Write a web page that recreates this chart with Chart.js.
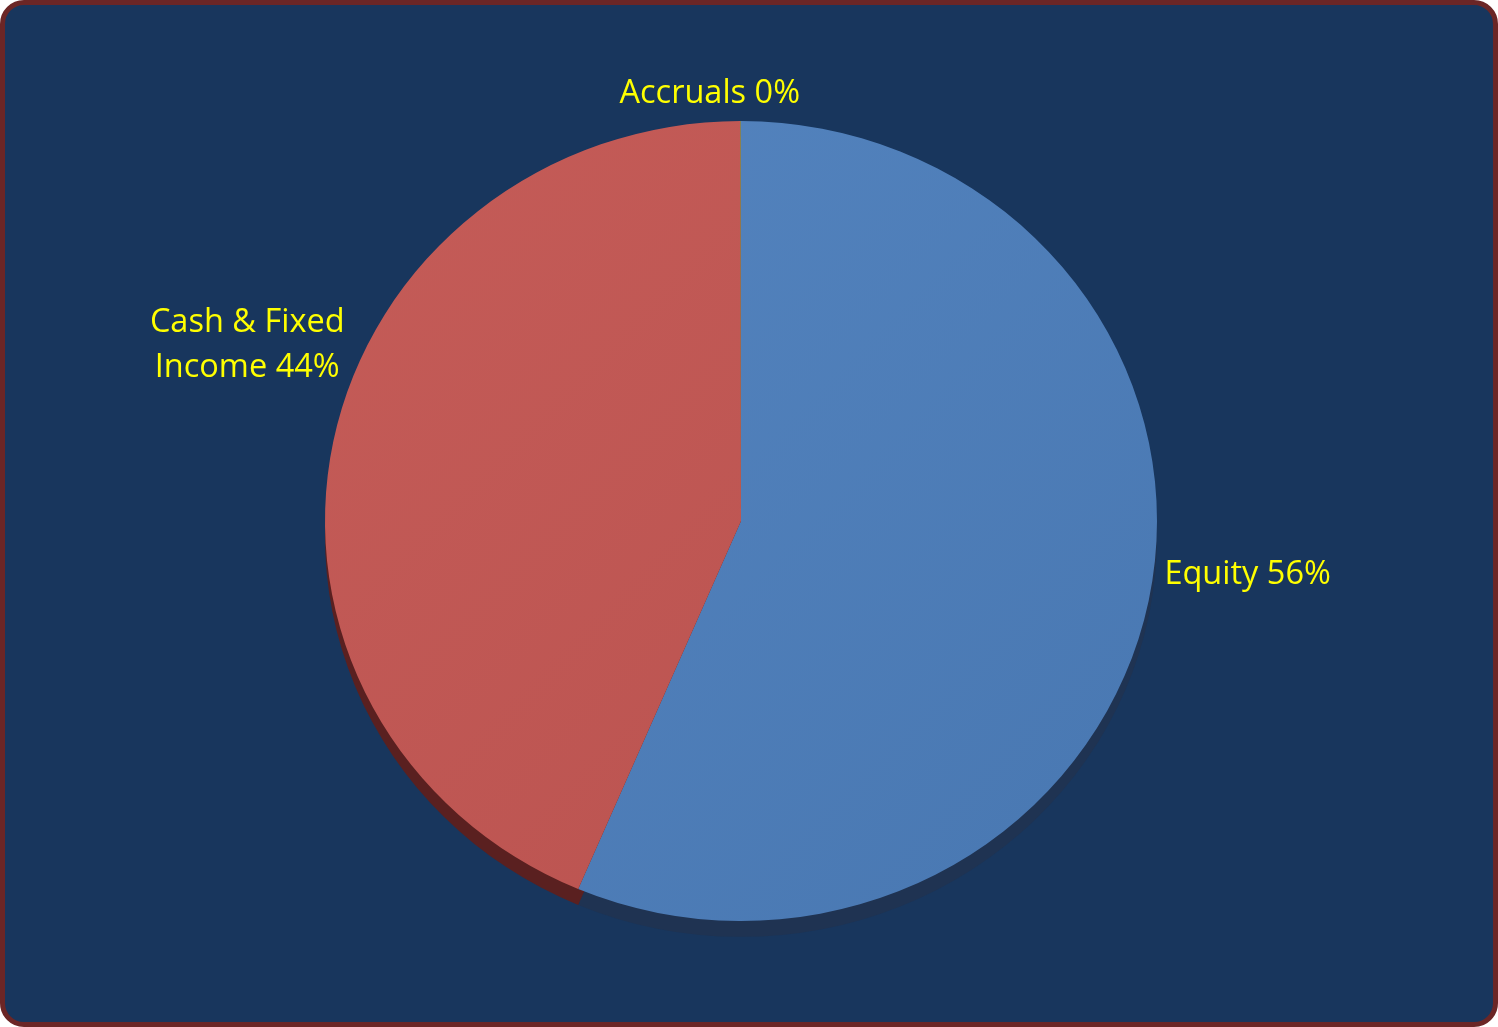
<!DOCTYPE html>
<html><head><meta charset="utf-8">
<script src="https://cdn.jsdelivr.net/npm/chart.js@4/dist/chart.umd.min.js"></script>
<style>
html,body{margin:0;padding:0;background:#ffffff;}
#frame{position:absolute;left:0;top:0;width:1498px;height:1027px;box-sizing:border-box;border:5px solid #6b2626;border-radius:24px;background:#18365d;}
#wrap{position:absolute;left:0;top:0;width:1498px;height:1027px;}
</style></head><body>
<div id="frame"></div>
<div id="wrap"><canvas id="c" width="1498" height="1027"></canvas></div>
<script>
// ---- data ----
const categories = ["Equity", "Cash & Fixed Income", "Accruals"];
const shares = [56.4, 43.58, 0.02];
const lightColors = ["#5585c0", "#c55c58"];
const darkColors = ["#4877b1", "#b8514e"];
const thirdColor = "#9bbb59";
const depthColors = ["#1f3352", "#5a2020", "#3d4a24"];

const tilt = {
  id: 'tilt',
  beforeDatasetsDraw(chart, args, opts) {
    const ctx = chart.ctx;
    const meta = chart.getDatasetMeta(0);
    const a0 = meta.data[0];
    const cx = a0.x, cy = a0.y;
    ctx.save();
    ctx.translate(cx, cy); ctx.scale(1, opts.squash); ctx.translate(-cx, -cy);
    meta.data.forEach((arc, i) => {
      ctx.beginPath();
      ctx.moveTo(cx + opts.dx, cy + opts.dy);
      ctx.arc(cx + opts.dx, cy + opts.dy, arc.outerRadius, arc.startAngle, arc.endAngle);
      ctx.closePath();
      ctx.fillStyle = depthColors[i];
      ctx.fill();
    });
  },
  afterDatasetsDraw(chart) { chart.ctx.restore(); }
};

function wrapText(ctx, text, maxW) {
  const words = text.split(' ');
  const lines = [];
  let cur = '';
  words.forEach(w => {
    const t = cur ? cur + ' ' + w : w;
    if (ctx.measureText(t).width > maxW && cur) { lines.push(cur); cur = w; }
    else cur = t;
  });
  if (cur) lines.push(cur);
  return lines;
}

const sliceLabels = {
  id: 'sliceLabels',
  afterDraw(chart, args, opts) {
    const ctx = chart.ctx;
    const meta = chart.getDatasetMeta(0);
    const total = shares.reduce((a, b) => a + b, 0);
    ctx.save();
    ctx.font = opts.font;
    ctx.fillStyle = opts.color;
    ctx.textBaseline = 'middle';
    ctx.textAlign = 'center';
    meta.data.forEach((arc, i) => {
      const pct = Math.round(shares[i] / total * 100);
      const lines = wrapText(ctx, categories[i] + ' ' + pct + '%', opts.maxWidth);
      const mid = (arc.startAngle + arc.endAngle) / 2;
      const c = Math.cos(mid), s = Math.sin(mid);
      const r = arc.outerRadius + opts.gap;
      let x = arc.x + c * r + opts.nudge[i][0];
      let y = arc.y + s * r * opts.squash + opts.nudge[i][1];
      const w = Math.max(...lines.map(l => ctx.measureText(l).width));
      const h = lines.length * opts.lineHeight;
      let bx = x, by = y;
      if (c > 0.3) bx = x + w / 2; else if (c < -0.3) bx = x - w / 2;
      if (s < -0.7) by = y - h / 2; else if (s > 0.7) by = y + h / 2;
      lines.forEach((l, k) => ctx.fillText(l, bx, by - h / 2 + opts.lineHeight * (k + 0.5)));
    });
    ctx.restore();
  }
};

const SQUASH = 400 / 416;

new Chart(document.getElementById('c'), {
  type: 'pie',
  data: {
    labels: categories,
    datasets: [{
      data: shares,
      borderWidth: 0,
      backgroundColor: (ctx) => {
        const i = ctx.dataIndex;
        if (i > 1) return thirdColor;
        const area = ctx.chart.chartArea;
        if (!area) return darkColors[i];
        const g = ctx.chart.ctx.createLinearGradient(area.left + 200, area.top, area.right - 200, area.bottom);
        g.addColorStop(0, lightColors[i]);
        g.addColorStop(1, darkColors[i]);
        return g;
      }
    }]
  },
  options: {
    responsive: false,
    animation: false,
    events: [],
    layout: { padding: { top: 105, bottom: 90, left: 100, right: 116 } },
    plugins: {
      legend: { display: false },
      tooltip: { enabled: false },
      tilt: { squash: SQUASH, dx: 0, dy: 16.5 },
      sliceLabels: {
        font: '32.5px "Open Sans"', color: '#ffff00', maxWidth: 225, lineHeight: 45,
        gap: 10, squash: SQUASH,
        nudge: [[6, -28], [21, -94], [-31, 5]]
      }
    }
  },
  plugins: [tilt, sliceLabels]
});
</script>
</body></html>
